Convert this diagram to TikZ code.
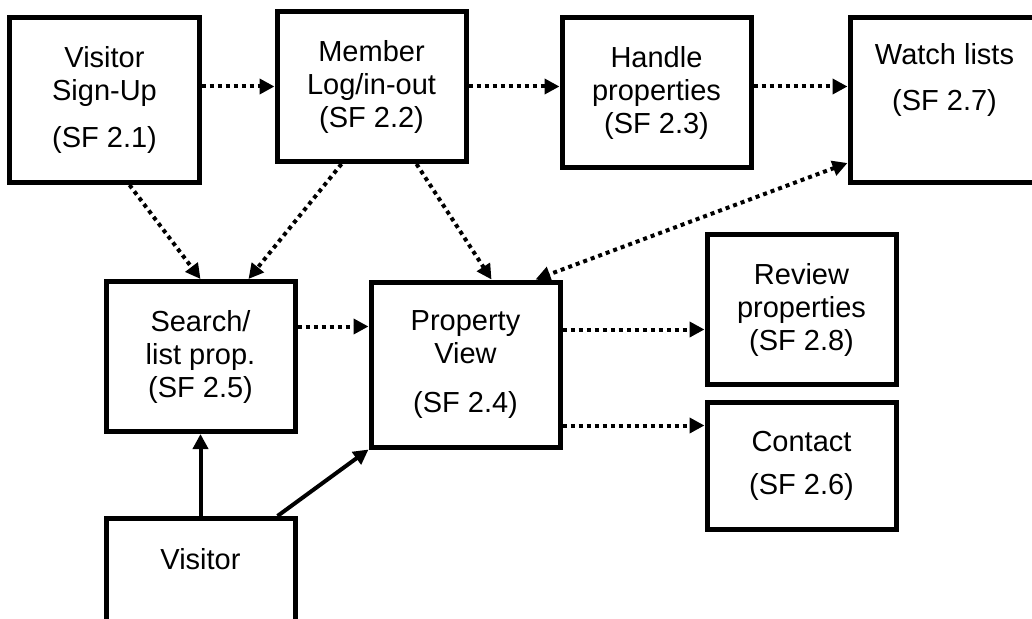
\documentclass[tikz,border=0pt]{standalone}
\usepackage{fontspec}
\setmainfont{Liberation Sans}
\usetikzlibrary{positioning, arrows.meta}

\begin{document}
\begin{tikzpicture}[>={Triangle[length=15pt, width=15pt]}, sf/.style={rectangle, draw, line width=5pt, minimum width=189pt, minimum height=150pt, inner sep=0pt, align=center, font=\fontsize{29}{33}\selectfont}, tall/.style={minimum height=165pt}, dot/.style={line width=4pt, dash pattern=on 4pt off 4pt}, sol/.style={line width=4pt}]
	\useasboundingbox (-104.5pt,-518pt) rectangle (927.5pt,100pt);

	\node[sf, tall] (SU) {Visitor\\Sign-Up\\[14pt](SF 2.1)};
	\node[sf, right=73pt of SU, yshift=13.5pt] (ML) {Member\\Log/in-out\\(SF 2.2)};
	\node[sf, right=91pt of ML, yshift=-6pt] (HP) {Handle\\properties\\(SF 2.3)};
	\node[sf, tall, text depth=46pt, right=94pt of HP, yshift=-7.5pt] (WL) {Watch lists\\[13pt](SF 2.7)};
	\node[sf, below=94pt of SU, xshift=96pt] (SP) {Search/\\list prop.\\(SF 2.5)};
	\node[sf, tall, right=71pt of SP, yshift=-8pt] (PV) {Property\\View\\[16pt](SF 2.4)};
	\node[sf, right=142pt of PV, yshift=55pt] (RP) {Review\\properties\\(SF 2.8)};
	\node[sf, minimum height=127pt, below=13pt of RP] (CT) {Contact\\[10pt](SF 2.6)};
	\node[sf, text depth=69pt, below=82pt of SP] (VI) {Visitor};


	\path[->, dot] (SU.east |- ML.west) edge (ML.west);
	\path[->, dot] (ML.east) edge (ML.east -| HP.west);
	\path[->, dot] (HP.east |- ML.east) edge (WL.west |- ML.east);
	\path[->, dot] ([xshift=25pt]SU.south) edge (SP.north);
	\path[->, dot] ([xshift=-30pt]ML.south) edge ([xshift=48pt]SP.north);
	\path[->, dot] ([xshift=45pt]ML.south) edge ([xshift=26pt]PV.north);
	\path[<->, dot] ([yshift=-63pt]WL.west) edge ([xshift=70pt]PV.north);
	\path[->, dot] ([yshift=30pt]SP.east) edge ([yshift=30pt]SP.east -| PV.west);
	\path[->, dot] ([yshift=35pt]PV.east) edge ([yshift=35pt]PV.east -| RP.west);
	\path[->, dot] ([yshift=-61pt]PV.east) edge ([yshift=-61pt]PV.east -| CT.west);
	\path[->, sol] (VI.north) edge (SP.south);
	\path[->, sol] ([xshift=77pt]VI.north) edge (PV.south west);
\end{tikzpicture}
\end{document}
